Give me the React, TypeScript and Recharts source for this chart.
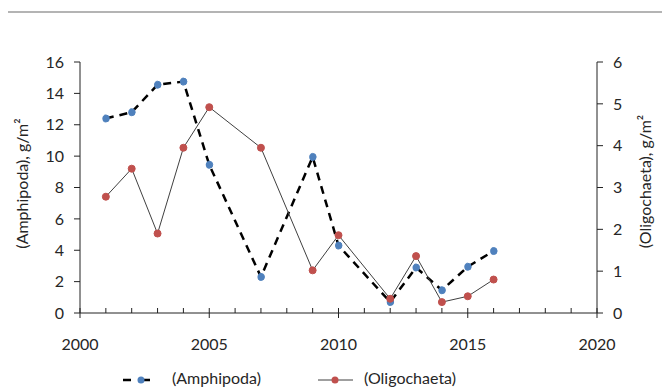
import { Label, Line, LineChart, XAxis, YAxis } from 'recharts'

const years = [2001, 2002, 2003, 2004, 2005, 2007, 2009, 2010, 2012, 2013, 2014, 2015, 2016]
const amphipoda = [12.4, 12.8, 14.55, 14.75, 9.45, 2.3, 9.95, 4.3, 0.7, 2.9, 1.45, 2.95, 3.95]
const oligochaeta = [2.78, 3.45, 1.9, 3.95, 4.92, 3.95, 1.02, 1.86, 0.34, 1.36, 0.26, 0.4, 0.8]

const xTicks = Array.from({ length: 21 }, (_, i) => 2000 + i)
const leftTicks = [0, 2, 4, 6, 8, 10, 12, 14, 16]
const rightTicks = [0, 1, 2, 3, 4, 5, 6]

const data = years.map((year, i) => ({
  year,
  amph: amphipoda[i],
  olig: oligochaeta[i],
}))

const FONT = 'Lato, "Noto Sans", sans-serif'
const AXIS = '#222'
const TEXT = '#262626'
const BLUE = '#4f81bd'
const RED = '#c0504d'

function XTick(props: any) {
  const { x, y, payload } = props
  const major = payload.value % 5 === 0
  return (
    <g>
      <line x1={x} x2={x} y1={y - 5} y2={major ? y + 5 : y} stroke={AXIS} strokeWidth={1} />
      {major && (
        <text
          x={x}
          y={y + 33}
          textAnchor="middle"
          dominantBaseline="middle"
          fill={TEXT}
          fontSize={16}
          fontFamily={FONT}
        >
          {payload.value}
        </text>
      )}
    </g>
  )
}

const tickStyle = { fill: TEXT, fontSize: 16, fontFamily: FONT }

export default function App() {
  return (
    <div
      style={{
        position: 'absolute',
        left: 0,
        top: 0,
        width: 662,
        height: 392,
        background: '#fff',
        fontFamily: FONT,
      }}
    >
      <div style={{ position: 'absolute', left: 8, top: 11, width: 654, height: 2, background: '#b4b4b4' }} />
      <LineChart width={662} height={392} data={data} margin={{ top: 62, right: 15, left: 30, bottom: 49 }}>
        <XAxis
          dataKey="year"
          type="number"
          domain={[2000, 2020]}
          ticks={xTicks}
          interval={0}
          tick={XTick}
          tickLine={false}
          tickSize={0}
          tickMargin={0}
          axisLine={{ stroke: AXIS }}
          height={30}
        />
        <YAxis
          yAxisId="left"
          domain={[0, 16]}
          ticks={leftTicks}
          width={50}
          tick={tickStyle}
          tickSize={6}
          tickMargin={10}
          tickLine={{ stroke: AXIS }}
          axisLine={{ stroke: AXIS }}
        >
          <Label
            value="(Amphipoda), g/m²"
            angle={-90}
            position="center"
            dx={-33}
            dy={-4}
            fill={TEXT}
            fontSize={16}
            fontFamily={FONT}
          />
        </YAxis>
        <YAxis
          yAxisId="right"
          orientation="right"
          domain={[0, 6]}
          ticks={rightTicks}
          width={50}
          tick={tickStyle}
          tickSize={6}
          tickMargin={10}
          tickLine={{ stroke: AXIS }}
          axisLine={{ stroke: AXIS }}
        >
          <Label
            value="(Oligochaeta), g/m²"
            angle={-90}
            position="center"
            dx={23}
            dy={-6}
            fill={TEXT}
            fontSize={16}
            fontFamily={FONT}
          />
        </YAxis>
        <Line
          yAxisId="left"
          dataKey="amph"
          type="linear"
          stroke="#000"
          strokeWidth={2.5}
          strokeDasharray="8 6"
          dot={{ r: 3.5, fill: BLUE, stroke: BLUE, strokeWidth: 1 }}
          isAnimationActive={false}
        />
        <Line
          yAxisId="right"
          dataKey="olig"
          type="linear"
          stroke="#404040"
          strokeWidth={1}
          dot={{ r: 3.5, fill: RED, stroke: RED, strokeWidth: 1 }}
          isAnimationActive={false}
        />
      </LineChart>
      <svg style={{ position: 'absolute', left: 0, top: 368 }} width={662} height={24}>
        <line x1={123} x2={158} y1={12} y2={12} stroke="#000" strokeWidth={2.5} strokeDasharray="8 11" />
        <circle cx={141} cy={12} r={3.5} fill={BLUE} />
        <text x={172} y={12} dominantBaseline="middle" fill={TEXT} fontSize={16} fontFamily={FONT}>
          (Amphipoda)
        </text>
        <line x1={318} x2={353} y1={12} y2={12} stroke="#404040" strokeWidth={1} />
        <circle cx={335} cy={12} r={3.5} fill={RED} />
        <text x={364} y={12} dominantBaseline="middle" fill={TEXT} fontSize={16} fontFamily={FONT}>
          (Oligochaeta)
        </text>
      </svg>
    </div>
  )
}
